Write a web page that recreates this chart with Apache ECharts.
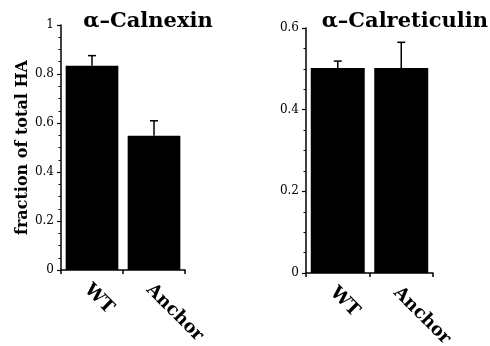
<!DOCTYPE html>
<html>
<head>
<meta charset="utf-8">
<script src="https://cdn.jsdelivr.net/npm/echarts@6/dist/echarts.min.js"></script>
<style>
  html, body { margin: 0; padding: 0; background: #fff; }
  #main { width: 490px; height: 346px; }
</style>
</head>
<body>
<div id="main"></div>
<script>
var categories = ['WT', 'Anchor'];
var calnexinMean = [0.834, 0.548];
var calnexinUpper = [0.875, 0.609];
var calreticulinMean = [0.502, 0.502];
var calreticulinUpper = [0.519, 0.565];

var serif = '"DejaVu Serif", "Liberation Serif", serif';

var chart = echarts.init(document.getElementById('main'));

function errorBars(xIdx, yIdx, means, uppers) {
  return {
    type: 'custom',
    xAxisIndex: xIdx,
    yAxisIndex: yIdx,
    z: 1,
    renderItem: function (params, api) {
      var i = api.value(0);
      var base = api.coord([i, api.value(1)]);
      var top = api.coord([i, api.value(2)]);
      var half = 4;
      return {
        type: 'group',
        children: [{
          type: 'line',
          shape: { x1: base[0], y1: base[1], x2: top[0], y2: top[1] },
          style: { stroke: '#000', lineWidth: 1.5 }
        }, {
          type: 'line',
          shape: { x1: top[0] - half, y1: top[1], x2: top[0] + half, y2: top[1] },
          style: { stroke: '#000', lineWidth: 1.5 }
        }]
      };
    },
    data: means.map(function (m, i) { return [i, m, uppers[i]]; })
  };
}

function xAxisBase(margin) {
  return {
    type: 'category',
    data: categories,
    axisLine: { lineStyle: { color: '#000', width: 1.5 } },
    axisTick: { show: true, length: 4, lineStyle: { color: '#000', width: 1.5 } },
    axisLabel: {
      rotate: -45,
      margin: margin,
      color: '#000',
      fontFamily: serif,
      fontWeight: 'bold',
      fontSize: 18,
      padding: [0, 0, 0, -7]
    }
  };
}

function yAxisBase(max) {
  return {
    type: 'value',
    min: 0,
    max: max,
    interval: 0.2,
    splitLine: { show: false },
    axisLine: { show: true, lineStyle: { color: '#000', width: 1.5 } },
    axisTick: { show: true, length: 4, lineStyle: { color: '#000', width: 1.2 } },
    minorTick: { show: true, splitNumber: 4, length: 2.5, lineStyle: { color: '#000', width: 1 } },
    axisLabel: {
      color: '#000',
      fontFamily: serif,
      fontSize: 12,
      margin: 7,
      formatter: function (v) { return String(Math.round(v * 10) / 10); }
    }
  };
}

var titleRich = {
  a: { fontFamily: serif, fontSize: 21, color: '#000' },
  b: { fontFamily: serif, fontSize: 21, fontWeight: 'bold', color: '#000' }
};

var option = {
  backgroundColor: '#fff',
  animation: false,
  title: [{
    text: '{a|α–}{b|Calnexin}',
    left: 143,
    textAlign: 'center',
    top: 6,
    textStyle: { rich: titleRich }
  }, {
    text: '{a|α–}{b|Calreticulin}',
    right: 2,
    top: 11,
    padding: 0,
    textStyle: { rich: titleRich }
  }],
  grid: [
    { left: 61, right: 305, top: 25, bottom: 76, outerBoundsMode: 'none' },
    { left: 306, right: 57, top: 28, bottom: 73, outerBoundsMode: 'none' }
  ],
  xAxis: [
    Object.assign({ gridIndex: 0 }, xAxisBase(22)),
    Object.assign({ gridIndex: 1 }, xAxisBase(22))
  ],
  yAxis: [
    Object.assign({
      gridIndex: 0,
      name: 'fraction of total HA',
      nameLocation: 'middle',
      nameGap: 27,
      nameTextStyle: { fontFamily: serif, fontWeight: 'bold', fontSize: 16, color: '#000' }
    }, yAxisBase(1)),
    Object.assign({ gridIndex: 1 }, yAxisBase(0.6))
  ],
  series: [
    errorBars(0, 0, calnexinMean, calnexinUpper),
    {
      type: 'bar',
      xAxisIndex: 0,
      yAxisIndex: 0,
      z: 2,
      barCategoryGap: '15%',
      itemStyle: { color: '#000' },
      data: calnexinMean
    },
    errorBars(1, 1, calreticulinMean, calreticulinUpper),
    {
      type: 'bar',
      xAxisIndex: 1,
      yAxisIndex: 1,
      z: 2,
      barCategoryGap: '15%',
      itemStyle: { color: '#000' },
      data: calreticulinMean
    }
  ]
};

chart.setOption(option);
</script>
</body>
</html>
